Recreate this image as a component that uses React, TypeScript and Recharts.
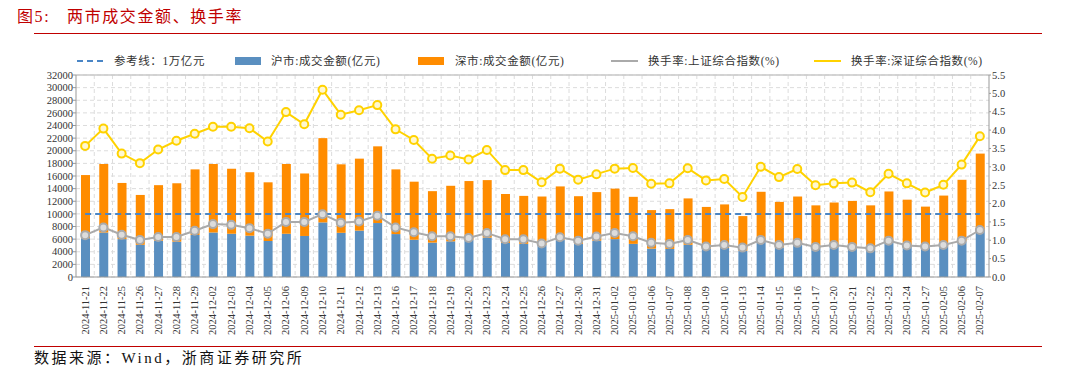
import React from "react";
import {
  ComposedChart,
  Bar,
  Line,
  XAxis,
  YAxis,
  CartesianGrid,
  ReferenceLine,
} from "recharts";

const dates = [
  "2024-11-21","2024-11-22","2024-11-25","2024-11-26","2024-11-27","2024-11-28","2024-11-29",
  "2024-12-02","2024-12-03","2024-12-04","2024-12-05","2024-12-06","2024-12-09","2024-12-10",
  "2024-12-11","2024-12-12","2024-12-13","2024-12-16","2024-12-17","2024-12-18","2024-12-19",
  "2024-12-20","2024-12-23","2024-12-24","2024-12-25","2024-12-26","2024-12-27","2024-12-30",
  "2024-12-31","2025-01-02","2025-01-03","2025-01-06","2025-01-07","2025-01-08","2025-01-09",
  "2025-01-10","2025-01-13","2025-01-14","2025-01-15","2025-01-16","2025-01-17","2025-01-20",
  "2025-01-21","2025-01-22","2025-01-23","2025-01-24","2025-01-27","2025-02-05","2025-02-06",
  "2025-02-07",
];

// 沪市:成交金额(亿元)
const shAmount = [
  6150, 7050, 6000, 5100, 5750, 5600, 6650, 7050, 6850, 6550, 5700, 6850, 6500, 8650,
  7000, 7350, 8550, 6800, 5900, 5450, 5650, 5900, 6250, 5400, 5250, 5100, 5900, 5250,
  5750, 6000, 5250, 4500, 4450, 5100, 4500, 4600, 4150, 5750, 4700, 5100, 4550, 4750,
  4550, 4400, 5800, 4750, 4600, 4950, 5650, 7500,
];

// 深市:成交金额(亿元)
const szAmount = [
  10000, 10850, 8900, 7900, 8800, 9250, 10400, 10850, 10300, 10050, 9300, 11050, 9900, 13350,
  10850, 11400, 12150, 10250, 9200, 8150, 8800, 9300, 9100, 7750, 7600, 7650, 8450, 7550,
  7700, 8000, 7450, 6100, 6300, 7350, 6600, 6900, 5500, 7750, 7200, 7650, 6800, 7050,
  7500, 6950, 7750, 7500, 6550, 7950, 9750, 12050,
];

// 换手率:上证综合指数(%)
const shTurnover = [
  1.14, 1.35, 1.15, 1.01, 1.09, 1.09, 1.26, 1.44, 1.42, 1.33, 1.18, 1.5, 1.5, 1.71,
  1.48, 1.51, 1.67, 1.35, 1.22, 1.11, 1.11, 1.06, 1.2, 1.03, 1.03, 0.91, 1.08, 0.99,
  1.1, 1.2, 1.11, 0.93, 0.9, 1.01, 0.83, 0.87, 0.8, 1.01, 0.87, 0.93, 0.82, 0.87,
  0.82, 0.78, 0.99, 0.86, 0.83, 0.87, 0.99, 1.28,
];

// 换手率:深证综合指数(%)
const szTurnover = [
  3.57, 4.04, 3.36, 3.1, 3.47, 3.71, 3.9, 4.09, 4.09, 4.05, 3.69, 4.49, 4.16, 5.1,
  4.42, 4.54, 4.68, 4.02, 3.73, 3.22, 3.31, 3.2, 3.46, 2.91, 2.91, 2.58, 2.95, 2.65,
  2.8, 2.95, 2.97, 2.54, 2.55, 2.96, 2.63, 2.67, 2.18, 3.0, 2.72, 2.94, 2.5, 2.55,
  2.57, 2.31, 2.81, 2.55, 2.3, 2.51, 3.06, 3.83,
];

// 参考线:1万亿元
const referenceValue = 10000;

const leftTicks = [0, 2000, 4000, 6000, 8000, 10000, 12000, 14000, 16000, 18000, 20000, 22000, 24000, 26000, 28000, 30000, 32000];
const rightTicks = [0, 0.5, 1, 1.5, 2, 2.5, 3, 3.5, 4, 4.5, 5, 5.5];

const data = dates.map((d, i) => ({
  date: d,
  sh: shAmount[i],
  sz: szAmount[i],
  refLevel: referenceValue,
  shT: shTurnover[i],
  szT: szTurnover[i],
}));

const C_REF = "#4a86c6";
const C_SH = "#5a8fc0";
const C_SZ = "#ff8c00";
const C_SHT = "#aaaaaa";
const C_SZT = "#ffd200";

const SERIF = "'Liberation Serif', 'Times New Roman', 'Noto Sans CJK SC', serif";
const CJK = "'Liberation Serif', 'Noto Sans CJK SC', serif";

const XTick = (props: any) => {
  const { x, y, payload } = props;
  return (
    <text
      x={x}
      y={y}
      transform={`rotate(-90, ${x}, ${y})`}
      textAnchor="end"
      dominantBaseline="central"
      fontSize={10.5}
      fontFamily={SERIF}
      fill="#333"
    >
      {payload.value}
    </text>
  );
};

const legendItems = [
  { label: "参考线：1万亿元", type: "dash", color: C_REF, left: 77, textLeft: 114 },
  { label: "沪市:成交金额(亿元)", type: "rect", color: C_SH, left: 235, textLeft: 271 },
  { label: "深市:成交金额(亿元)", type: "rect", color: C_SZ, left: 418, textLeft: 455 },
  { label: "换手率:上证综合指数(%)", type: "line", color: C_SHT, left: 611, textLeft: 648 },
  { label: "换手率:深证综合指数(%)", type: "line", color: C_SZT, left: 814, textLeft: 851 },
];

export default function App() {
  const n = dates.length;
  return (
    <div style={{ position: "absolute", left: 0, top: 0, width: 1078, height: 373, background: "#fff", overflow: "hidden" }}>
      {/* Title */}
      <div
        style={{
          position: "absolute",
          left: 17,
          top: 6,
          fontSize: 16,
          fontFamily: CJK,
          color: "#c00000",
          letterSpacing: 1.6,
          whiteSpace: "pre",
          lineHeight: "22px",
        }}
      >
        {"图5:   两市成交金额、换手率"}
      </div>
      <div style={{ position: "absolute", left: 34, top: 33, width: 1008, height: 1, background: "#c00000" }} />

      {/* Legend */}
      {legendItems.map((it) => (
        <React.Fragment key={it.label}>
          {it.type === "rect" ? (
            <div style={{ position: "absolute", left: it.left, top: 57, width: 26, height: 8, background: it.color }} />
          ) : it.type === "dash" ? (
            <div style={{ position: "absolute", left: it.left, top: 60, width: 26, height: 0, borderTop: `2px dashed ${it.color}` }} />
          ) : (
            <div style={{ position: "absolute", left: it.left, top: 60, width: 27, height: 2, background: it.color }} />
          )}
          <div
            style={{
              position: "absolute",
              left: it.textLeft,
              top: 52,
              fontSize: 11.5,
              lineHeight: "18px",
              fontFamily: CJK,
              color: "#333",
              whiteSpace: "pre",
              letterSpacing: 0.6,
            }}
          >
            {it.label}
          </div>
        </React.Fragment>
      ))}

      <div style={{ position: "absolute", left: 0, top: 0 }}>
        <ComposedChart
          width={1078}
          height={373}
          data={data}
          margin={{ top: 75, right: 0, left: 0, bottom: 0 }}
          barCategoryGap="50%"
        >
          <CartesianGrid
            stroke="#dcdcdc"
            strokeDasharray="4 3"
            yAxisId="left"
            verticalCoordinatesGenerator={({ offset }: any) =>
              Array.from({ length: n - 1 }, (_, i) => offset.left + ((i + 1) * offset.width) / n)
            }
          />
          <XAxis
            dataKey="date"
            interval={0}
            tick={<XTick />}
            tickLine={false}
            tickMargin={3}
            height={96}
            axisLine={{ stroke: "#999" }}
          />
          <YAxis
            yAxisId="left"
            orientation="left"
            domain={[0, 32000]}
            ticks={leftTicks}
            interval={0}
            width={76}
            tickSize={3}
            tickMargin={0}
            axisLine={{ stroke: "#999" }}
            tickLine={{ stroke: "#999" }}
            tick={{ fontSize: 10.5, fontFamily: SERIF, fill: "#333" }}
          />
          <YAxis
            yAxisId="right"
            orientation="right"
            domain={[0, 5.5]}
            ticks={rightTicks}
            interval={0}
            width={89}
            tickSize={2}
            tickMargin={1}
            axisLine={{ stroke: "#999" }}
            tickLine={{ stroke: "#999" }}
            tickFormatter={(v: number) => v.toFixed(1)}
            tick={{ fontSize: 10.5, fontFamily: SERIF, fill: "#333" }}
          />
          <ReferenceLine yAxisId="left" y={32000} stroke="#c8c8c8" strokeWidth={1.5} />
          <Bar yAxisId="left" dataKey="sh" stackId="amt" fill={C_SH} barSize={9} isAnimationActive={false} />
          <Bar yAxisId="left" dataKey="sz" stackId="amt" fill={C_SZ} barSize={9} isAnimationActive={false} />
          <Line
            yAxisId="left"
            dataKey="refLevel"
            stroke={C_REF}
            strokeWidth={2}
            strokeDasharray="6 4"
            dot={false}
            activeDot={false}
            isAnimationActive={false}
          />
          <Line
            yAxisId="right"
            dataKey="shT"
            stroke={C_SHT}
            strokeWidth={2}
            dot={{ r: 4, stroke: C_SHT, strokeWidth: 2, fill: "#dcdcdc" }}
            activeDot={false}
            isAnimationActive={false}
          />
          <Line
            yAxisId="right"
            dataKey="szT"
            stroke={C_SZT}
            strokeWidth={2}
            dot={{ r: 4, stroke: C_SZT, strokeWidth: 2, fill: "#fff8d0" }}
            activeDot={false}
            isAnimationActive={false}
          />
        </ComposedChart>
      </div>

      {/* Source */}
      <div style={{ position: "absolute", left: 34, top: 346, width: 1008, height: 1, background: "#c00000" }} />
      <div
        style={{
          position: "absolute",
          left: 34,
          top: 348,
          fontSize: 15,
          lineHeight: "20px",
          fontFamily: CJK,
          color: "#111",
          letterSpacing: 2.5,
          whiteSpace: "pre",
        }}
      >
        数据来源：Wind，浙商证券研究所
      </div>
    </div>
  );
}
